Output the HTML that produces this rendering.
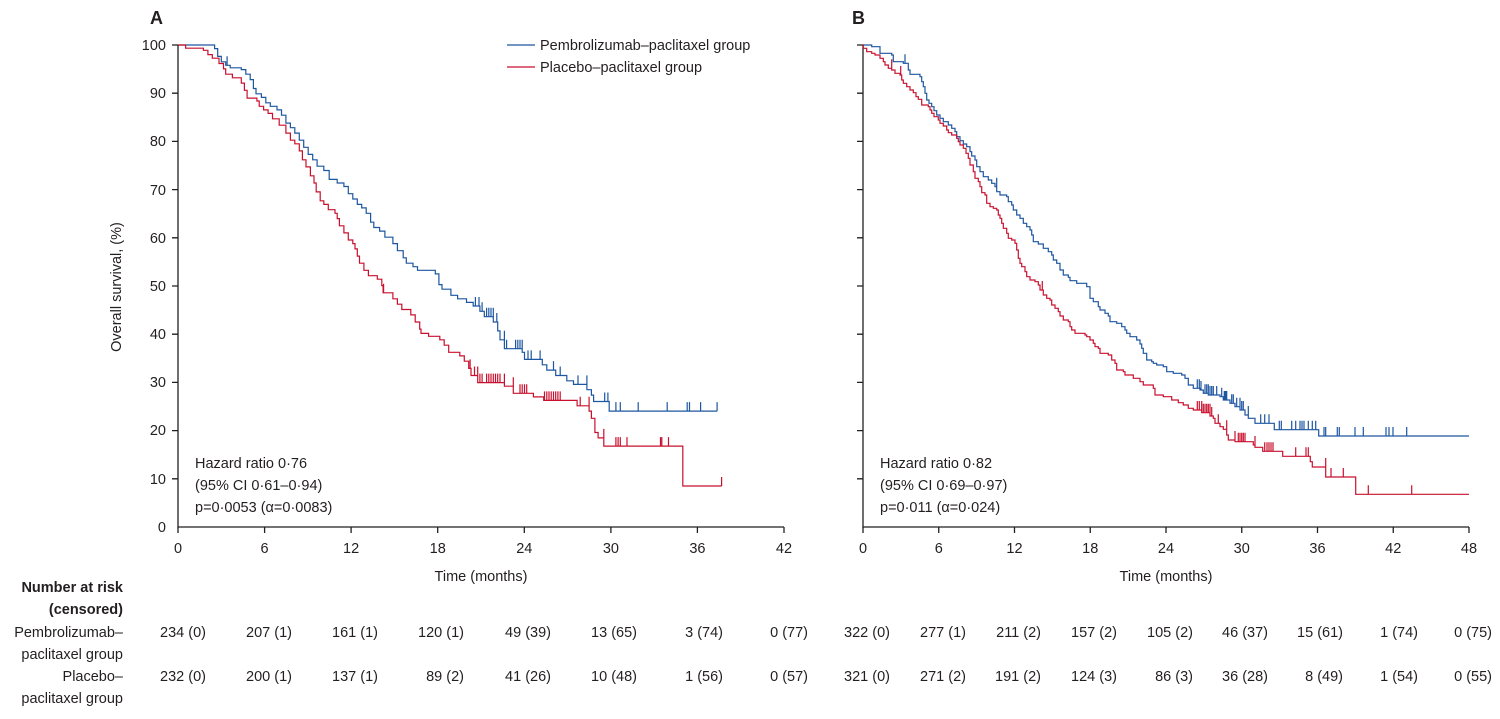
<!DOCTYPE html>
<html><head><meta charset="utf-8"><style>
body{margin:0;background:#fff;}
svg{display:block;font-family:"Liberation Sans",sans-serif;fill:#231f20;}
text{font-size:14.5px;}
</style></head><body>
<svg id="s" width="1500" height="719" xmlns="http://www.w3.org/2000/svg">
<g stroke="#231f20" stroke-width="1.3" fill="none">
<path d="M178,45 V527 H784"/>
<path d="M863,45 V527 H1469"/>
<path d="M172,45H178M172,93.2H178M172,141.4H178M172,189.6H178M172,237.8H178M172,286H178M172,334.2H178M172,382.4H178M172,430.6H178M172,478.8H178"/>
<path d="M857,45H863M857,93.2H863M857,141.4H863M857,189.6H863M857,237.8H863M857,286H863M857,334.2H863M857,382.4H863M857,430.6H863M857,478.8H863"/>
<path d="M178,527V533M264.6,527V533M351.1,527V533M437.7,527V533M524.3,527V533M610.9,527V533M697.4,527V533M784,527V533"/>
<path d="M863,527V533M938.75,527V533M1014.5,527V533M1090.25,527V533M1166,527V533M1241.75,527V533M1317.5,527V533M1393.25,527V533M1469,527V533"/>
<path d="M507,45H535" stroke="#1d56a0"/>
<path d="M507,67H535" stroke="#c8102e"/>
</g>
<g id="curves"></g>
<text x="150" y="24" style="font-weight:bold;font-size:18px">A</text>
<text x="852" y="24" style="font-weight:bold;font-size:18px">B</text>
<text x="540" y="50">Pembrolizumab–paclitaxel group</text>
<text x="540" y="72">Placebo–paclitaxel group</text>
<g text-anchor="end">
<text x="166" y="50">100</text><text x="166" y="98">90</text><text x="166" y="146">80</text><text x="166" y="195">70</text><text x="166" y="243">60</text><text x="166" y="291">50</text><text x="166" y="339">40</text><text x="166" y="387">30</text><text x="166" y="435">20</text><text x="166" y="484">10</text><text x="166" y="532">0</text>
</g>
<text transform="translate(121,287) rotate(-90)" text-anchor="middle">Overall survival, (%)</text>
<g text-anchor="middle">
<text x="178" y="553">0</text><text x="264.6" y="553">6</text><text x="351.1" y="553">12</text><text x="437.7" y="553">18</text><text x="524.3" y="553">24</text><text x="610.9" y="553">30</text><text x="697.4" y="553">36</text><text x="784" y="553">42</text>
<text x="863" y="553">0</text><text x="938.75" y="553">6</text><text x="1014.5" y="553">12</text><text x="1090.25" y="553">18</text><text x="1166" y="553">24</text><text x="1241.75" y="553">30</text><text x="1317.5" y="553">36</text><text x="1393.25" y="553">42</text><text x="1469" y="553">48</text>
<text x="481" y="581">Time (months)</text><text x="1166" y="581">Time (months)</text>
</g>
<text x="195" y="468">Hazard ratio 0·76</text>
<text x="195" y="490">(95% CI 0·61–0·94)</text>
<text x="195" y="512">p=0·0053 (α=0·0083)</text>
<text x="880" y="468">Hazard ratio 0·82</text>
<text x="880" y="490">(95% CI 0·69–0·97)</text>
<text x="880" y="512">p=0·011 (α=0·024)</text>
<g text-anchor="end">
<text x="123" y="592" style="font-weight:bold">Number at risk</text>
<text x="123" y="614" style="font-weight:bold">(censored)</text>
<text x="123" y="637">Pembrolizumab–</text><text x="123" y="659">paclitaxel group</text>
<text x="123" y="681">Placebo–</text><text x="123" y="703">paclitaxel group</text>
<text x="206" y="637">234 (0)</text><text x="292" y="637">207 (1)</text><text x="378" y="637">161 (1)</text><text x="464" y="637">120 (1)</text><text x="551" y="637">49 (39)</text><text x="637" y="637">13 (65)</text><text x="723" y="637">3 (74)</text><text x="808" y="637">0 (77)</text>
<text x="890" y="637">322 (0)</text><text x="966" y="637">277 (1)</text><text x="1041" y="637">211 (2)</text><text x="1117" y="637">157 (2)</text><text x="1193" y="637">105 (2)</text><text x="1268" y="637">46 (37)</text><text x="1343" y="637">15 (61)</text><text x="1418" y="637">1 (74)</text><text x="1492" y="637">0 (75)</text>
<text x="206" y="681">232 (0)</text><text x="292" y="681">200 (1)</text><text x="378" y="681">137 (1)</text><text x="464" y="681">89 (2)</text><text x="551" y="681">41 (26)</text><text x="637" y="681">10 (48)</text><text x="723" y="681">1 (56)</text><text x="808" y="681">0 (57)</text>
<text x="890" y="681">321 (0)</text><text x="966" y="681">271 (2)</text><text x="1041" y="681">191 (2)</text><text x="1117" y="681">124 (3)</text><text x="1193" y="681">86 (3)</text><text x="1268" y="681">36 (28)</text><text x="1343" y="681">8 (49)</text><text x="1418" y="681">1 (54)</text><text x="1492" y="681">0 (55)</text>
</g>
</svg>
<script>
var NS="http://www.w3.org/2000/svg",G=document.getElementById("curves");
function draw(d,ticks,color,sx,tx,sy,ty){
 var t=d.replace(/([MHV])/g," $1 ").trim().split(/[\s,]+/),x=0,y=0,pts=[],i=0;
 while(i<t.length){var c=t[i++];if(c=="M"){x=+t[i++];y=+t[i++];}else if(c=="H"){x=+t[i++];}else if(c=="V"){y=+t[i++];}pts.push([x,y]);}
 var P=function(a,b){return (tx+a*sx).toFixed(1)+","+(ty+b*sy).toFixed(1);};
 var s="M"+pts.map(function(p){return P(p[0],p[1]);}).join("L");
 function yAt(xx){var yy=pts[0][1];for(var k=0;k<pts.length;k++){if(pts[k][0]<=xx)yy=pts[k][1];else break;}
  for(var k=0;k<pts.length;k++){if(pts[k][0]==xx){yy=pts[k][1];break;}}return yy;}
 ticks.forEach(function(xx){var yy=yAt(xx);var X=tx+xx*sx,Y=ty+yy*sy;s+="M"+X.toFixed(1)+","+Y.toFixed(1)+"V"+(Y-9).toFixed(1);});
 var e=document.createElementNS(NS,"path");e.setAttribute("d",s);e.setAttribute("stroke",color);e.setAttribute("fill","none");e.setAttribute("stroke-width","1.2");G.appendChild(e);
}
var sy=482/1352,ty=45-43*sy;
var sA=606/1359,tA=178-173*sA,sB=1/3,tB=860,syB=1/3,tyB=40;
draw("M173,43 H255 V53 H262 V75 H270 V90 H280 V100 H290 V107 H315 V112 H325 V125 H335 V140 H342 V165 H348 V180 H360 V190 H370 V205 H380 V215 H395 V225 H405 V240 H415 V262 H425 V275 H435 V290 H445 V310 H455 V330 H465 V350 H475 V365 H485 V383 H500 V395 H512 V420 H530 V430 H545 V440 H555 V460 H565 V475 H575 V490 H585 V500 H595 V515 H605 V540 H612 V555 H625 V565 H637 V582 H655 V600 H665 V620 H678 V640 H685 V655 H700 V665 H710 V675 H750 V685 H758 V715 H765 V728 H785 V745 H800 V755 H820 V765 H835 V775 H850 V790 H860 V805 H880 V820 H890 V845 H895 V870 H905 V895 H945 V905 H950 V925 H990 V940 H1000 V955 H1020 V970 H1045 V985 H1060 V995 H1090 V1010 H1100 V1025 H1105 V1043 H1140 V1070 H1382",
[283,840,848,855,865,870,875,880,888,905,910,930,935,940,945,958,965,985,1015,1030,1070,1090,1130,1137,1155,1165,1205,1270,1315,1320,1345,1382],"#1d56a0",sA,tA,sy,ty);
draw("M173,43 H190 V52 H230 V58 H240 V70 H250 V80 H265 V95 H275 V110 H280 V125 H295 V135 H315 V150 H322 V170 H328 V192 H350 V200 H355 V215 H365 V225 H375 V235 H385 V250 H400 V268 H415 V290 H425 V310 H435 V320 H445 V340 H452 V365 H460 V385 H470 V410 H478 V430 H483 V455 H492 V480 H500 V490 H510 V505 H525 V515 H530 V530 H535 V550 H545 V570 H555 V590 H565 V600 H570 V615 H575 V635 H580 V655 H590 V675 H600 V690 H620 V700 H630 V718 H633 V738 H655 V755 H665 V770 H675 V785 H695 V800 H705 V820 H715 V840 H718 V852 H735 V860 H760 V870 H770 V885 H780 V905 H805 V915 H815 V930 H825 V950 H830 V970 H845 V990 H905 V1000 H925 V1020 H970 V1030 H993 V1040 H1068 V1055 H1095 V1070 H1100 V1090 H1108 V1130 H1115 V1145 H1128 V1168 H1305 V1280 H1392",
[634,828,838,845,850,855,865,870,875,880,885,890,895,905,925,940,945,950,955,995,1000,1005,1010,1015,1020,1025,1030,1075,1095,1128,1155,1160,1165,1180,1255,1258,1273,1392],"#c8102e",sA,tA,sy,ty);
draw("M8,15 H35 V20 H60 V40 H95 V45 H100 V65 H130 V70 H145 V90 H150 V103 H180 V110 H185 V125 H190 V140 H195 V160 H200 V180 H207 V190 H215 V200 H222 V212 H230 V225 H240 V235 H250 V245 H265 V255 H275 V265 H285 V275 H290 V290 H300 V302 H310 V312 H320 V320 H330 V335 H335 V348 H345 V360 H350 V380 H360 V395 H370 V410 H385 V420 H395 V430 H405 V440 H410 V455 H420 V465 H440 V470 H445 V485 H455 V495 H460 V510 H470 V525 H480 V535 H490 V550 H500 V560 H510 V570 H515 V585 H520 V605 H535 V612 H550 V625 H565 V635 H575 V645 H580 V660 H590 V670 H600 V690 H610 V705 H625 V712 H630 V722 H650 V730 H680 V740 H690 V775 H700 V785 H715 V800 H720 V810 H735 V820 H745 V828 H750 V845 H770 V850 H785 V860 H795 V870 H800 V880 H810 V890 H830 V900 H840 V912 H845 V925 H850 V940 H860 V960 H875 V965 H880 V970 H890 V975 H910 V980 H920 V995 H940 V1000 H965 V1005 H975 V1015 H985 V1035 H1000 V1045 H1020 V1050 H1030 V1060 H1045 V1065 H1080 V1070 H1090 V1080 H1110 V1090 H1125 V1100 H1140 V1110 H1155 V1125 H1165 V1135 H1185 V1150 H1243 V1169 H1376 V1188 H1827",
[135,410,1012,1018,1023,1035,1040,1045,1050,1055,1060,1070,1085,1093,1095,1098,1100,1115,1120,1130,1140,1145,1150,1165,1202,1214,1227,1258,1264,1295,1307,1320,1326,1332,1345,1357,1367,1392,1397,1432,1438,1485,1510,1578,1587,1599,1640],"#1d56a0",sB,tB,syB,tyB);
draw("M8,15 H10 V25 H20 V35 H35 V40 H45 V45 H60 V55 H70 V65 H75 V75 H85 V85 H95 V90 H105 V100 H120 V105 H125 V120 H130 V130 H140 V140 H150 V150 H160 V158 H168 V170 H175 V178 H185 V195 H205 V200 H210 V210 H215 V220 H222 V230 H235 V240 H240 V250 H250 V258 H260 V270 H265 V278 H275 V285 H290 V295 H295 V305 H300 V315 H310 V325 H318 V340 H325 V355 H330 V375 H340 V395 H345 V415 H355 V425 H360 V440 H365 V458 H375 V465 H380 V490 H390 V500 H400 V505 H410 V510 H415 V525 H420 V535 H425 V550 H430 V565 H440 V580 H445 V595 H455 V600 H465 V610 H470 V630 H475 V655 H480 V670 H485 V680 H495 V695 H500 V710 H510 V720 H525 V725 H535 V735 H540 V750 H550 V765 H560 V775 H570 V780 H575 V795 H585 V805 H595 V815 H600 V828 H610 V840 H625 V845 H630 V860 H635 V870 H645 V880 H675 V885 H680 V890 H690 V900 H700 V910 H705 V920 H715 V925 H720 V940 H745 V945 H755 V960 H765 V970 H770 V990 H790 V995 H795 V1005 H820 V1015 H840 V1025 H850 V1035 H880 V1045 H885 V1065 H910 V1070 H935 V1080 H955 V1088 H970 V1095 H985 V1105 H1000 V1110 H1025 V1118 H1050 V1128 H1060 V1135 H1065 V1150 H1080 V1160 H1090 V1168 H1100 V1185 H1105 V1200 H1125 V1205 H1180 V1215 H1185 V1222 H1208 V1234 H1268 V1249 H1351 V1265 H1357 V1281 H1397 V1311 H1487 V1363 H1827",
[95,122,547,1012,1018,1025,1030,1035,1040,1045,1050,1055,1075,1100,1125,1135,1140,1145,1150,1155,1185,1214,1221,1227,1233,1239,1307,1338,1345,1397,1413,1450,1525,1655],"#c8102e",sB,tB,syB,tyB);
</script>
</body></html>
